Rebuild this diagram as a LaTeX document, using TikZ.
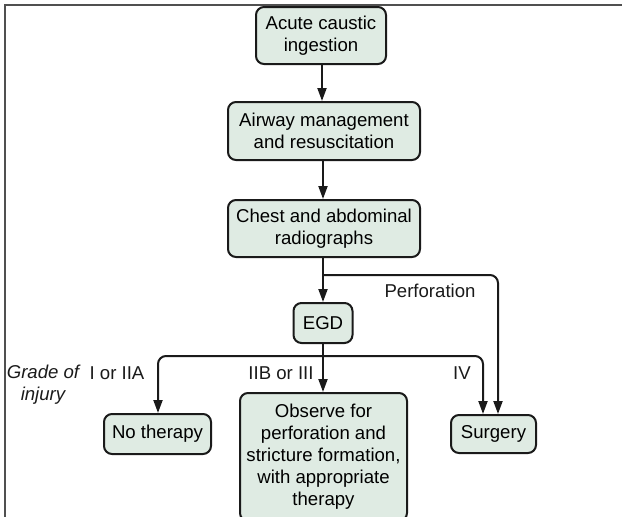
\documentclass[tikz,border=0pt]{standalone}
\usepackage{fontspec}
\setmainfont{Liberation Sans}
\usetikzlibrary{arrows.meta}
\definecolor{boxfill}{HTML}{DFEBE3}
\definecolor{linecol}{HTML}{1A1A1A}
\definecolor{framecol}{HTML}{505050}
\tikzset{
  flowbox/.style={draw=linecol, fill=boxfill, line width=2pt, rounded corners=8pt,
    align=center, inner sep=0pt, font=\fontsize{18.6}{22}\selectfont},
  conn/.style={draw=linecol, line width=2pt, rounded corners=8pt,
    -{Triangle[length=13pt,width=9pt]}},
  plainline/.style={draw=linecol, line width=2pt, rounded corners=8pt},
  lbl/.style={font=\fontsize{18.6}{22}\selectfont, inner sep=0pt, text=linecol},
}
\begin{document}
\begin{tikzpicture}[x=1pt,y=-1pt]
\useasboundingbox (0,0) rectangle (622,517);
\draw[framecol, line width=1.5pt] (5,517) -- (5,5) -- (622,5);

\node[flowbox, minimum width=130pt, minimum height=57pt] (b1) at (321,35.5) {Acute caustic\\ingestion};
\node[flowbox, minimum width=192pt, minimum height=58pt] (b2) at (324,131) {Airway management\\and resuscitation};
\node[flowbox, minimum width=192pt, minimum height=57pt] (b3) at (324,228.5) {Chest and abdominal\\radiographs};
\node[flowbox, minimum width=59pt, minimum height=40pt] (egd) at (323,323) {EGD};
\node[flowbox, minimum width=107pt, minimum height=40pt] (noth) at (157.5,434) {No therapy};
\node[flowbox, minimum width=167pt, minimum height=128pt, anchor=north] (obs) at (323.5,392) {Observe for\\perforation and\\stricture formation,\\with appropriate\\therapy};
\node[flowbox, minimum width=85pt, minimum height=38pt] (surg) at (493.5,434) {Surgery};

\coordinate (br1) at (323,275);
\coordinate (br2) at (323,356);

\draw[conn] (b1.south -| 322,0) -- (b2.north -| 322,0);
\draw[conn] (b2.south -| 323,0) -- (b3.north -| 323,0);
\draw[conn] (b3.south -| 323,0) -- (egd.north -| 323,0);
\draw[conn] (br1) -- (498,275) -- (surg.north -| 498,0);
\draw[conn] (egd.south -| 323,0) -- (obs.north -| 323,0);
\draw[conn] (br2) -- (158,356) -- (noth.north -| 158,0);
\draw[conn] (br2) -- (483,356) -- (surg.north -| 483,0);

\node[lbl] (perf) at (430,291) {Perforation};
\node[lbl] (l1) at (117,373) {I or IIA};
\node[lbl] (l2) at (281,373) {IIB or III};
\node[lbl] (l3) at (462,373) {IV};
\node[lbl, align=center] (grade) at (43,385) {\itshape Grade of\\\itshape injury};
\end{tikzpicture}
\end{document}
